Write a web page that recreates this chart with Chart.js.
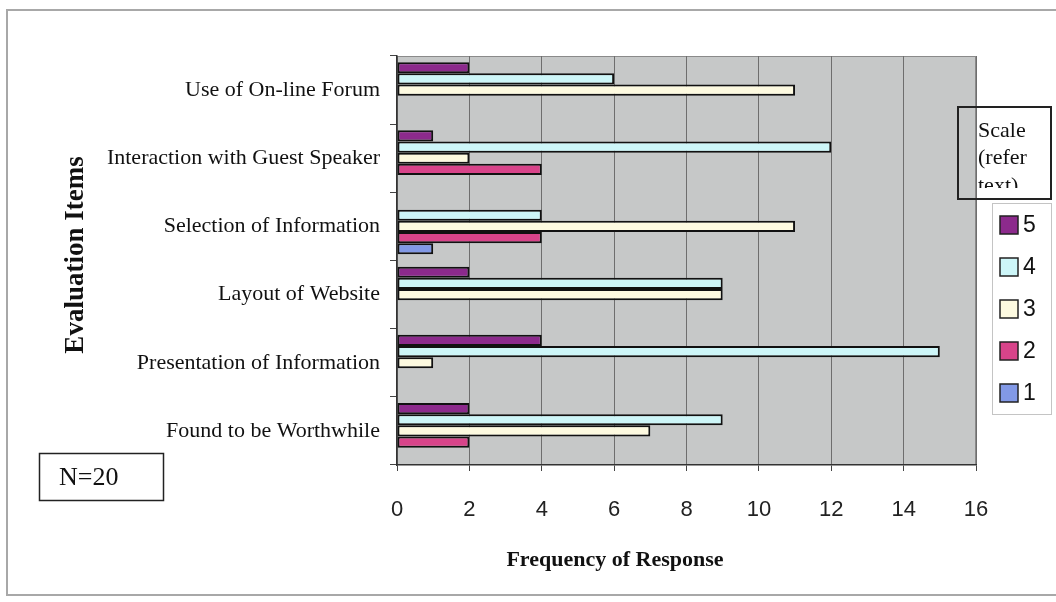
<!DOCTYPE html>
<html>
<head>
<meta charset="utf-8">
<script src="https://cdn.jsdelivr.net/npm/chart.js@4"></script>
<style>
  html, body { margin: 0; padding: 0; background: #ffffff; }
  #wrap { position: relative; width: 1056px; height: 602px; }
</style>
</head>
<body>
<div id="wrap"><canvas id="evalChart" width="1056" height="602"></canvas></div>
<script>
// evaluation items, top to bottom
const items = [
    "Use of On-line Forum",
    "Interaction with Guest Speaker",
    "Selection of Information",
    "Layout of Website",
    "Presentation of Information",
    "Found to be Worthwhile"
];

// responses per scale point
const scale5 = [2, 1, 0, 2, 4, 2];
const scale4 = [6, 12, 4, 9, 15, 9];
const scale3 = [11, 2, 11, 9, 1, 7];
const scale2 = [0, 4, 4, 0, 0, 2];
const scale1 = [0, 0, 1, 0, 0, 0];

const scaleNames = ["5", "4", "3", "2", "1"];
const xTicks = [0, 2, 4, 6, 8, 10, 12, 14, 16];

const serif = "'Liberation Serif', 'Times New Roman', serif";
const sans = "'Liberation Sans', Arial, sans-serif";

// gray plot area + outline
const plotBack = {
    id: "plotBack",
    beforeDraw(chart) {
        const a = chart.chartArea;
        const c = chart.ctx;
        c.save();
        c.fillStyle = "#c6c8c8";
        c.fillRect(a.left, a.top, a.right - a.left, a.bottom - a.top);
        c.strokeStyle = "#8a8a8a";
        c.lineWidth = 1;
        c.strokeRect(a.left + 0.5, a.top + 0.5, a.right - a.left - 1, a.bottom - a.top - 1);
        c.restore();
    }
};

// frame, titles, N box and the legend
const extras = {
    id: "extras",
    afterDraw(chart) {
        const c = chart.ctx;
        c.save();

        // outer frame
        c.strokeStyle = "#a8a8a8";
        c.lineWidth = 2;
        c.beginPath();
        c.moveTo(1056, 10);
        c.lineTo(7, 10);
        c.lineTo(7, 595);
        c.lineTo(1056, 595);
        c.stroke();

        // axis titles
        c.fillStyle = "#111";
        c.font = "bold 22px " + serif;
        c.textAlign = "center";
        c.textBaseline = "middle";
        c.fillText("Frequency of Response", 615, 560);

        c.save();
        c.translate(76, 255);
        c.rotate(-Math.PI / 2);
        c.font = "bold 27px " + serif;
        c.fillText("Evaluation Items", 0, 0);
        c.restore();

        // N=20 box
        c.strokeStyle = "#222";
        c.lineWidth = 1.5;
        c.strokeRect(39.5, 453.5, 124, 47);
        c.font = "26px " + serif;
        c.textAlign = "left";
        c.fillText("N=20", 59, 478);

        // legend title box
        c.strokeStyle = "#222";
        c.lineWidth = 2;
        c.strokeRect(958, 107, 93, 92);
        c.save();
        c.beginPath();
        c.rect(959, 108, 91, 80);
        c.clip();
        c.font = "22px " + serif;
        c.textAlign = "left";
        c.fillText("Scale", 978, 131);
        c.fillText("(refer", 978, 158);
        c.fillText("text)", 978, 186);
        c.restore();

        // legend items
        c.strokeStyle = "#c4c4c4";
        c.lineWidth = 1;
        c.strokeRect(992.5, 203.5, 59, 211);
        chart.data.datasets.forEach((ds, i) => {
            const y = 225 + i * 42;
            c.fillStyle = ds.backgroundColor;
            c.fillRect(1000, y - 9, 18, 18);
            c.strokeStyle = "#222";
            c.lineWidth = 1.5;
            c.strokeRect(1000, y - 9, 18, 18);
            c.fillStyle = "#111";
            c.font = "23px " + sans;
            c.fillText(ds.label, 1023, y + 1);
        });

        c.restore();
    }
};

const seriesValues = [scale5, scale4, scale3, scale2, scale1];
const seriesColors = ["#8c2a8c", "#cdf6f8", "#fdfae0", "#d8448a", "#8299e6"];

const ctx = document.getElementById("evalChart").getContext("2d");
const chart = new Chart(ctx, {
    type: "bar",
    data: {
        labels: items,
        datasets: scaleNames.map((name, i) => ({
            label: name,
            data: seriesValues[i],
            backgroundColor: seriesColors[i],
            borderColor: "#111",
            borderWidth: 2,
            borderSkipped: false,
            categoryPercentage: 0.82,
            barPercentage: 1.0
        }))
    },
    options: {
        indexAxis: "y",
        responsive: false,
        animation: false,
        layout: { padding: { left: 0, top: 56, right: 80, bottom: 0 } },
        plugins: {
            legend: { display: false },
            tooltip: { enabled: false }
        },
        scales: {
            x: {
                min: 0,
                max: 16,
                afterBuildTicks: (axis) => { axis.ticks = xTicks.map(v => ({ value: v })); },
                afterFit: (axis) => { axis.height = 137; },
                grid: {
                    color: "#6e6e6e",
                    lineWidth: 1,
                    drawTicks: true,
                    tickLength: 6,
                    tickColor: "#444"
                },
                border: { color: "#333", width: 1.5 },
                ticks: {
                    color: "#222",
                    font: { family: sans, size: 22 },
                    padding: 26
                }
            },
            y: {
                afterFit: (axis) => { axis.width = 397; },
                grid: {
                    offset: true,
                    drawOnChartArea: false,
                    drawTicks: true,
                    tickLength: 7,
                    tickColor: "#444"
                },
                border: { color: "#333", width: 1.5 },
                ticks: {
                    color: "#111",
                    font: { family: serif, size: 22 },
                    padding: 10
                }
            }
        }
    },
    plugins: [plotBack, extras]
});
</script>
</body>
</html>
